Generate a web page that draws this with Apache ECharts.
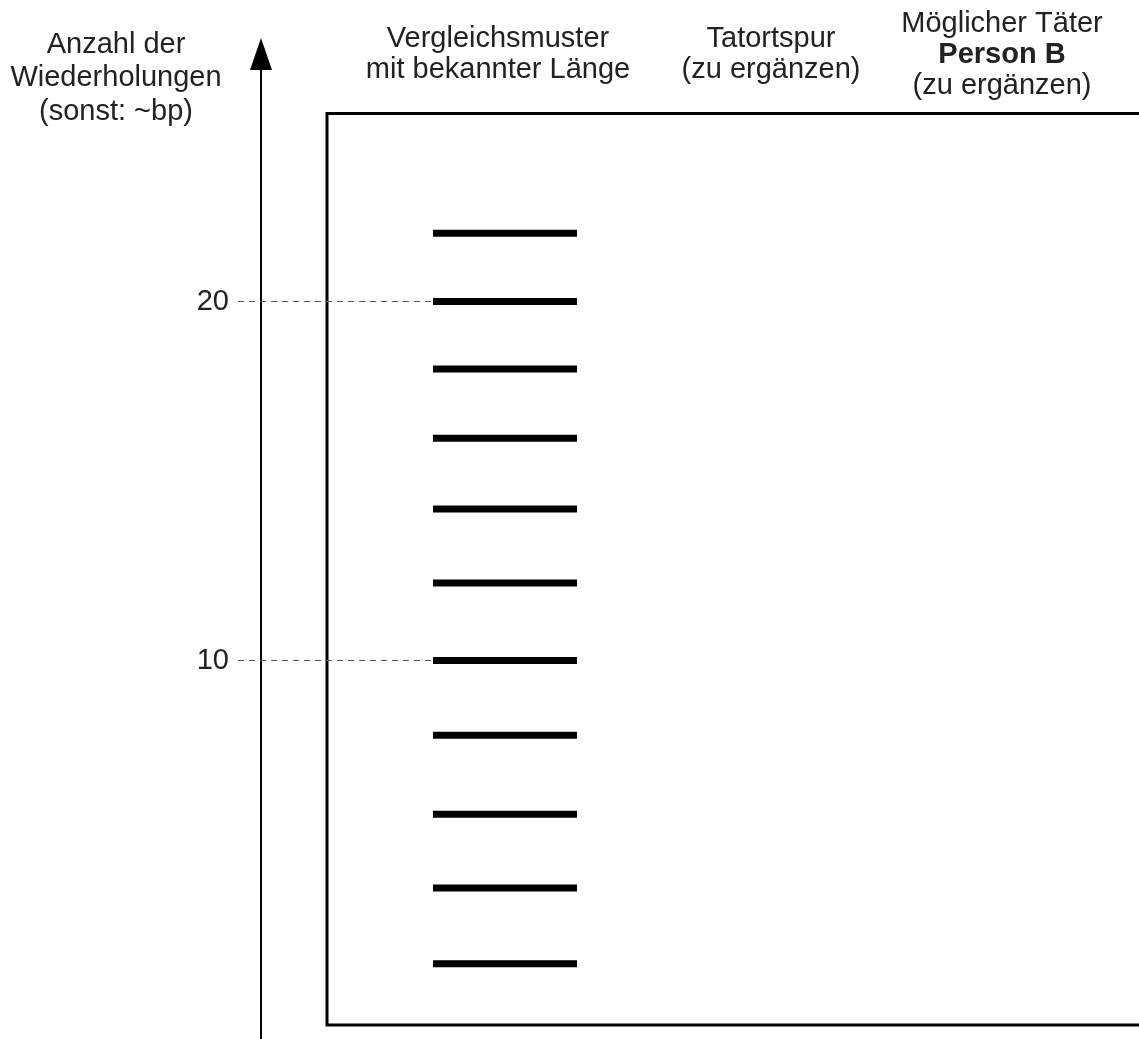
<!DOCTYPE html>
<html>
<head>
<meta charset="utf-8">
<script src="https://cdn.jsdelivr.net/npm/echarts@6/dist/echarts.min.js"></script>
<style>
html,body{margin:0;padding:0;background:#fff;}
#chart{width:1139px;height:1039px;}
</style>
</head>
<body>
<div id="chart"></div>
<script>
// ---- data ----
const yAxisTitleLines = ['Anzahl der', 'Wiederholungen', '(sonst: ~bp)'];
const yTicks = [10, 20];
const laneTitles = [
  ['Vergleichsmuster', 'mit bekannter Länge'],
  ['Tatortspur', '(zu ergänzen)'],
  ['Möglicher Täter', 'Person B', '(zu ergänzen)']
];
const laneBoldLine = [-1, -1, 1];
// known-length reference ladder (repeat counts)
const ladderValues = [21.9, 20, 18.12, 16.19, 14.22, 12.16, 10, 7.92, 5.72, 3.66, 1.55];

// ---- layout (not data) ----
const FONT = "'Liberation Sans', Arial, Helvetica, sans-serif";
const TEXT = '#222';
const FS = 29;
const laneLabelX = [171, 444, 675];   // x-axis units in the gel grid
const ladderLaneX = 178;
const gelX = [0, 822];
const gelY = [-0.153, 25.237];
const axisY = [-0.682, 26.894];
const tickX = [-23, 172];

const chart = echarts.init(document.getElementById('chart'), null, {renderer: 'canvas'});

const laneRich = {
  n: {fontFamily: FONT, fontSize: FS, lineHeight: 31, color: TEXT},
  b: {fontFamily: FONT, fontSize: FS, lineHeight: 31, color: TEXT, fontWeight: 'bold'}
};

function laneLabel(val) {
  const i = laneLabelX.indexOf(val);
  if (i < 0) return '';
  return laneTitles[i].map((t, k) => (k === laneBoldLine[i] ? '{b|' : '{n|') + t + '}').join('\n');
}

chart.setOption({
  animation: false,
  backgroundColor: '#fff',
  title: {
    text: yAxisTitleLines.join('\n'),
    left: 116, top: 28, padding: 0,
    textAlign: 'center',
    textStyle: {fontFamily: FONT, fontSize: FS, lineHeight: 33.5, color: TEXT, fontWeight: 'normal'}
  },
  grid: [
    {left: 238, right: 1139 - 433, top: 54, bottom: -5, show: false, outerBoundsMode: 'none', containLabel: false},
    {left: 327, right: -10, top: 113.5, bottom: 14, show: true, borderColor: '#000', borderWidth: 3,
     backgroundColor: 'transparent', outerBoundsMode: 'none', containLabel: false}
  ],
  xAxis: [
    {gridIndex: 0, type: 'value', min: tickX[0], max: tickX[1], show: false},
    {gridIndex: 1, type: 'value', min: gelX[0], max: gelX[1], position: 'top',
     axisLine: {show: false}, axisTick: {show: false}, splitLine: {show: false},
     axisLabel: {show: true, customValues: laneLabelX, formatter: laneLabel, margin: 59,
                 verticalAlign: 'middle', align: 'center', rich: laneRich, color: TEXT}}
  ],
  yAxis: [
    {gridIndex: 0, type: 'value', min: axisY[0], max: axisY[1],
     axisLine: {show: true, onZero: true, symbol: ['none', 'triangle'], symbolSize: [22, 32],
                lineStyle: {color: '#000', width: 2}},
     axisTick: {show: false}, splitLine: {show: false},
     axisLabel: {show: true, customValues: yTicks, margin: 9, fontFamily: FONT, fontSize: FS, color: TEXT}},
    {gridIndex: 1, type: 'value', min: gelY[0], max: gelY[1], show: false, splitLine: {show: false}}
  ],
  series: [
    {
      type: 'scatter', xAxisIndex: 0, yAxisIndex: 0, data: [], silent: true,
      markLine: {
        silent: true, symbol: 'none', label: {show: false},
        lineStyle: {color: '#555', width: 1, type: [6, 5]},
        emphasis: {disabled: true},
        data: yTicks.map(v => [{coord: [tickX[0], v]}, {coord: [tickX[1], v]}])
      }
    },
    {
      type: 'scatter', xAxisIndex: 1, yAxisIndex: 1, silent: true,
      symbol: 'rect', symbolSize: [144, 7],
      itemStyle: {color: '#000', opacity: 1},
      data: ladderValues.map(v => [ladderLaneX, v])
    }
  ]
});
</script>
</body>
</html>
